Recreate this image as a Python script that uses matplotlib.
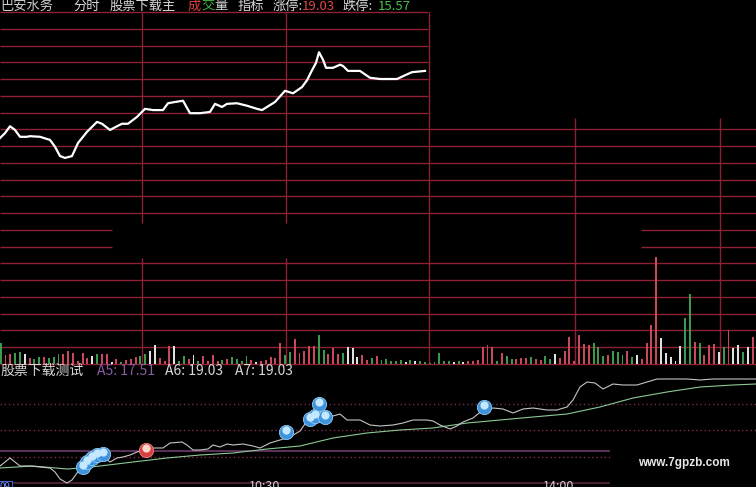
import matplotlib
matplotlib.use("Agg")
import matplotlib.pyplot as plt
from matplotlib.transforms import offset_copy

plt.rcParams['font.family'] = ['Noto Sans CJK SC', 'DejaVu Sans']

# 分时价格 (minute index, price)
price_t = [0, 1, 2, 3, 4, 5.4, 6, 8, 10, 11,
           12, 13, 14.4, 15.6, 17.4, 19.4, 20.4, 22, 23.4, 24.4,
           25.6, 27.4, 29, 30.6, 32.6, 33.6, 35, 36.6, 38, 40,
           42, 43, 44.4, 45.4, 47.4, 49.4, 51.4, 52.4, 53.4, 55,
           57, 58.6, 60.4, 61.4, 62.4, 63.2, 63.8, 64.6, 65.2, 66.6,
           68, 68.6, 69.6, 72, 74, 76, 79.4, 81, 82.4, 85]
price = [16.97, 17.05, 17.16, 17.10, 16.99, 16.99, 17.00, 16.99, 16.94, 16.83,
         16.68, 16.65, 16.68, 16.89, 17.07, 17.23, 17.20, 17.10, 17.16, 17.20,
         17.20, 17.31, 17.44, 17.42, 17.42, 17.53, 17.55, 17.57, 17.37, 17.37,
         17.39, 17.52, 17.47, 17.52, 17.53, 17.49, 17.44, 17.42, 17.47, 17.55,
         17.73, 17.69, 17.79, 17.90, 18.06, 18.18, 18.35, 18.23, 18.10, 18.10,
         18.15, 18.13, 18.05, 18.05, 17.94, 17.92, 17.92, 17.98, 18.03, 18.05]
limit_up = 19.03
limit_down = 15.57

# 成交量, r = 红, g = 绿, w = 白
vol = [21, 9, 10, 11, 12, 10, 6, 5, 7, 7, 6, 7, 10, 10, 13, 11, 3, 11, 6, 8,
       10, 10, 10, 2, 5, 2, 4, 5, 7, 8, 10, 13, 19, 6, 3, 18, 18, 3, 8, 5,
       9, 3, 8, 3, 9, 3, 4, 5, 7, 5, 3, 8, 4, 2, 3, 4, 7, 6, 21, 9,
       12, 25, 11, 13, 18, 18, 29, 14, 10, 16, 10, 11, 17, 16, 7, 9, 4, 6,
       8, 4, 5, 3, 3, 4, 2, 4, 3, 3, 2, 1, 2, 11, 3, 3, 2, 3, 2, 3,
       3, 4, 17, 19, 17, 3, 11, 8, 5, 5, 6, 6, 7, 5, 4, 8, 5, 10, 6, 13,
       27, 3, 29, 20, 19, 21, 17, 8, 9, 13, 12, 9, 13, 7, 9, 5, 21, 39, 107, 26,
       11, 7, 3, 18, 46, 70, 22, 21, 9, 19, 20, 12, 17, 34, 16, 19, 12, 17, 27]
vol_dir = ("grrggwrggrgggrrrrrrwgrrwrgrrrggwwrrrwggrwgrrrrgrggggrwrrrrrggrrrrrggrrrgwwwrr"
           "grgggggwgwgggggggwgwrrrrrrgrggrrrgrrggwrrrrrrrgggrgggrgwrrrrwwwwwggrgrrrwgrwwgwr")

# 指标: 灰线, 绿线, 信号点
ind_t = [0, 1, 2, 3, 4, 6, 8, 10, 11, 12,
         13.4, 14.4, 15.4, 16.4, 17.6, 19.4, 20.6, 22, 23.4, 24.6,
         26, 27.4, 29.4, 30.6, 32.6, 34, 36.4, 37.4, 38.6, 40,
         41.6, 42.6, 44, 45.4, 46.6, 48.6, 50.6, 52, 54, 56,
         58, 60, 61.4, 62.6, 64.6, 66.6, 68, 69.4, 72, 74,
         76, 78.6, 80.6, 82.6, 85.4, 86.6, 88, 90, 91.4, 92.6,
         94.6, 96.6, 98.6, 100.6, 102.6, 104.6, 106.6, 109.4, 111.4, 113.4,
         114.6, 116, 117.4, 119, 120.6, 122.6, 124.6, 127.4, 129.4, 131.4,
         134.6, 137.4, 140, 142.6, 146.6, 151.2]
ind_line = [17.29, 17.37, 17.45, 17.37, 17.29, 17.29, 17.27, 17.25, 17.17, 17.03,
            16.95, 17.01, 17.15, 17.27, 17.37, 17.47, 17.47, 17.37, 17.45, 17.47,
            17.51, 17.57, 17.63, 17.65, 17.65, 17.75, 17.77, 17.71, 17.61, 17.61,
            17.63, 17.71, 17.67, 17.73, 17.71, 17.73, 17.69, 17.65, 17.75, 17.81,
            17.87, 17.99, 18.19, 18.27, 18.29, 18.29, 18.33, 18.21, 18.21, 18.11,
            18.09, 18.11, 18.15, 18.21, 18.21, 18.19, 18.11, 18.03, 18.09, 18.17,
            18.25, 18.41, 18.45, 18.43, 18.35, 18.43, 18.45, 18.41, 18.41, 18.47,
            18.61, 18.87, 18.97, 18.95, 18.83, 18.93, 18.91, 18.91, 18.97, 19.03,
            19.03, 19.03, 19.01, 19.03, 19.03, 19.03]
ma_t = [0, 6.6, 13.4, 16, 20, 26.6, 33.4, 40, 46.6, 53.4, 60, 66.6, 73.4,
        80, 86.6, 93.4, 100, 106.6, 113.4, 120, 126.6, 133.4, 140, 146.6, 151.2]
ma_line = [17.25, 17.29, 17.23, 17.25, 17.29, 17.37, 17.45, 17.51, 17.55, 17.63,
           17.69, 17.85, 17.95, 18.01, 18.05, 18.15, 18.21, 18.27, 18.33, 18.47,
           18.65, 18.77, 18.87, 18.91, 18.93]
blue_t = [16.6, 17.4, 18.4, 19.4, 20.6, 57.2, 62, 63, 65, 63.8, 96.8]
blue_v = [17.27, 17.37, 17.45, 17.51, 17.53, 17.97, 18.23, 18.29, 18.27, 18.53, 18.47]
red_t = [29.2]
red_v = [17.61]

W, H = 756, 487
grid_c = '#8e2034'


def box(x0, y0, x1, y1):
    return [x0 / W, 1 - y1 / H, (x1 - x0) / W, (y1 - y0) / H]


fig = plt.figure(figsize=(W / 100, H / 100), dpi=100, facecolor='black')

# background grid
bg = fig.add_axes([0, 0, 1, 1])
bg.set_xlim(0, W)
bg.set_ylim(H, 0)
bg.set_facecolor('black')
bg.axis('off')

for k in range(22):
    y = 12 + 16.75 * k
    if k <= 6:
        bg.hlines(y, 0, 428, color=grid_c, lw=1)
    elif k in (13, 14):
        bg.hlines(y, 0, 112, color=grid_c, lw=1)
        bg.hlines(y, 641, W, color=grid_c, lw=1)
    else:
        bg.hlines(y, 0, W, color=grid_c, lw=1)
for x in (142, 286):
    bg.vlines(x, 12, 223, color=grid_c, lw=1)
    bg.vlines(x, 258, 364, color=grid_c, lw=1)
bg.vlines(429, 12, 364, color=grid_c, lw=1)
for x in (575, 720):
    bg.vlines(x, 118, 364, color=grid_c, lw=1)

# indicator panel guide lines
for y in (404, 430):
    bg.hlines(y, 0, W, color='#7a2a48', lw=1, linestyles=(0, (1, 2)))
bg.hlines(457, 0, 610, color='#7a2a48', lw=1, linestyles=(0, (1, 2)))
bg.hlines(451, 0, 610, color='#6e3a6a', lw=1.2)
bg.hlines(483, 0, 610, color='#5a2440', lw=1.2)

# header text
fs = 9.5
hy = 6
for x, s, c in [(0, '巴安水务', '#d0d0d0'), (73, '分时', '#d8d8d8'),
                (110, '股票下载主', '#d8d8d8'), (188, '成', '#e03c3c'),
                (201, '交', '#3cb43c'), (214, '量', '#d8d8d8'),
                (238, '指标', '#d8d8d8'), (273, '涨停:', '#d8d8d8'),
                (302, f'{limit_up:.2f}', '#e04848'), (343, '跌停:', '#d8d8d8'),
                (378, f'{limit_down:.2f}', '#48c048')]:
    bg.text(x, hy, s, color=c, fontsize=fs, va='center', ha='left')

iy = 371
for x, s, c in [(0, '股票下载测试', '#d8d8d8'), (97, f'A5: {17.51:.2f}', '#8a5aa0'),
                (165, f'A6: {19.03:.2f}', '#d8d8d8'), (235, f'A7: {19.03:.2f}', '#d8d8d8')]:
    bg.text(x, iy, s, color=c, fontsize=10, va='center', ha='left')

bg.text(638, 463, 'www.7gpzb.com', color='#e8e8e8', fontsize=8.5,
        fontweight='bold', family='Liberation Sans', va='center', ha='left')
for x, s in [(249, '10:30'), (543, '14:00')]:
    bg.text(x, 480, s, color='#cfcfcf', fontsize=9, va='top', ha='left')
bg.text(0, 482, '09', color='#6a8cff', fontsize=7, va='top', ha='left',
        bbox=dict(boxstyle='square,pad=0.1', fc='black', ec='#4060d0', lw=0.8))

# price panel
ax_p = fig.add_axes(box(0, 0, 428, 225))
ax_p.set_xlim(0, 85.6)
ax_p.set_ylim(15.571, 19.191)
ax_p.axis('off')
ax_p.plot(price_t, price, color='white', lw=1.6, solid_joinstyle='round')

# volume panel
ax_v = fig.add_axes(box(0, 200, W, 364))
ax_v.set_xlim(-0.14, 156.7)
ax_v.set_ylim(0, 164)
ax_v.axis('off')
cmap = {'r': '#c84a5a', 'g': '#3c9a4c', 'w': '#e0e0e0'}
ax_v.bar(range(len(vol)), vol, width=0.4, color=[cmap[d] for d in vol_dir])

# indicator panel
ax_i = fig.add_axes(box(0, 375, W, 487))
ax_i.set_xlim(0, 151.2)
ax_i.set_ylim(16.87, 19.11)
ax_i.axis('off')
ax_i.plot(ma_t, ma_line, color='#8cc894', lw=0.8)
ax_i.plot(ind_t, ind_line, color='#c4c4c4', lw=0.8)
hl = offset_copy(ax_i.transData, fig=fig, x=0, y=1.5, units='dots')
ax_i.scatter(blue_t, blue_v, s=105, color='#3f93dc', edgecolors='#8ccaf4', lw=0.6, zorder=3)
ax_i.scatter(blue_t, blue_v, s=35, color='#c4e8ff', lw=0, zorder=4, transform=hl)
ax_i.scatter(red_t, red_v, s=105, color='#d84040', edgecolors='#f08080', lw=0.6, zorder=3)
ax_i.scatter(red_t, red_v, s=35, color='#ffd6cc', lw=0, zorder=4, transform=hl)

fig.savefig('out.png', dpi=100, facecolor='black')
